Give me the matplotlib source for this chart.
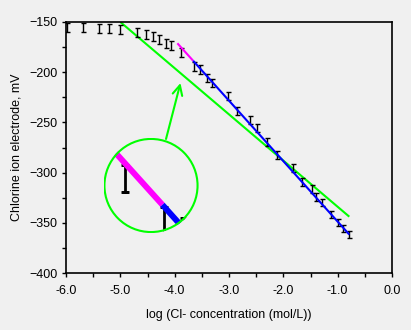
import matplotlib
matplotlib.use("Agg")
import matplotlib.pyplot as plt
from matplotlib.patches import Circle

plt.rcParams['font.family'] = ['Liberation Sans', 'DejaVu Sans']

bg = '#f0f0f0'

# measured points: log concentration, potential (mV), error (mV)
log_conc = [-5.98, -5.68, -5.39, -5.20, -5.00, -4.69, -4.52, -4.39, -4.29, -4.16,
            -4.06, -3.89, -3.65, -3.53, -3.40, -3.31, -3.02, -2.85, -2.61, -2.48,
            -2.30, -2.11, -1.83, -1.65, -1.48, -1.40, -1.28, -1.12, -1.00, -0.90, -0.79]
potential = [-155, -155, -156, -156, -157, -160.5, -162, -164, -167, -171,
             -173, -180, -194, -197.5, -206, -211, -224, -239, -247.5, -255.5,
             -269.5, -282, -295, -309, -316, -324, -330, -342, -350, -356, -362]
err = [4.5, 4.5, 4.5, 4.5, 4.5, 4.5, 4.5, 4.5, 4.5, 4.5,
       4.5, 4.5, 4.5, 4.5, 4, 4, 4, 4, 4, 4,
       4, 4, 4, 4, 4, 4, 3.5, 3.5, 3.5, 3.5, 3.5]

# fitted lines (endpoints)
magenta_x = [-3.95, -3.66]
magenta_y = [-171.2, -188.6]
blue_x = [-3.66, -0.786]
blue_y = [-188.6, -361.7]
green_x = [-5.0, -0.786]
green_y = [-150.0, -343.9]

# zoom window
zoom_center = (-3.73, -182.2)
zoom_half = (0.2915, 15.77)
arrow_from = (-4.159, -266.5)
arrow_to = (-3.893, -210.8)

fig = plt.figure(figsize=(4.11, 3.30), dpi=100, facecolor=bg)
ax = fig.add_axes([66 / 411, 57 / 330, 326 / 411, 251 / 330], facecolor=bg)


def draw_data(a, lw, elw, cap, z):
    a.plot(green_x, green_y, color='#00ff00', lw=lw, solid_capstyle='butt', zorder=2)
    a.errorbar(log_conc, potential, yerr=err, fmt='none', ecolor='black',
               elinewidth=elw, capsize=cap, capthick=elw, zorder=3)
    a.plot(magenta_x, magenta_y, color='#ff00ff', lw=z, solid_capstyle='butt', zorder=4)
    a.plot(blue_x, blue_y, color='#0000ff', lw=z, solid_capstyle='butt', zorder=4)


draw_data(ax, 1.5, 1.0, 1.8, 1.5)

ax.set_xlim(-6.0, 0.0)
ax.set_ylim(-400, -150)
ax.set_xticks([-6, -5, -4, -3, -2, -1, 0])
ax.set_xticklabels(['-6.0', '-5.0', '-4.0', '-3.0', '-2.0', '-1.0', '0.0'])
ax.set_xticks([-5.5, -4.5, -3.5, -2.5, -1.5, -0.5], minor=True)
ax.set_yticks([-400, -350, -300, -250, -200, -150])
ax.set_yticks([-375, -325, -275, -225, -175], minor=True)
ax.tick_params(which='both', direction='out', length=3, width=1, labelsize=9)
ax.tick_params(axis='x', pad=6)
ax.tick_params(axis='y', pad=3)
for s in ax.spines.values():
    s.set_linewidth(1.2)
ax.set_xlabel('log (Cl- concentration (mol/L))', fontsize=9, labelpad=8)
ax.set_ylabel('Chlorine ion electrode, mV', fontsize=9, labelpad=5)

ax.annotate('', xy=arrow_to, xytext=arrow_from,
            arrowprops=dict(arrowstyle='->,head_length=0.7,head_width=0.35',
                            color='#00ff00', lw=1.5, shrinkA=0, shrinkB=0))

# magnified circle
ins = fig.add_axes([(151 - 47.5) / 411, (330 - 185.5 - 47.5) / 330, 95 / 411, 95 / 330])
ins.set_facecolor('none')
ins.axis('off')
draw_data(ins, 4, 2.0, 2.9, 4.3)
ins.set_xlim(zoom_center[0] - zoom_half[0], zoom_center[0] + zoom_half[0])
ins.set_ylim(zoom_center[1] - zoom_half[1], zoom_center[1] + zoom_half[1])
clip = Circle((0.5, 0.5), 0.5, transform=ins.transAxes, facecolor='none')
ins.add_patch(clip)
for art in ins.lines + ins.collections:
    art.set_clip_path(clip)
ring = Circle((0.5, 0.5), 0.49, transform=ins.transAxes, facecolor='none',
              edgecolor='#00ff00', lw=1.5, zorder=10)
ins.add_patch(ring)

fig.savefig('out.png', dpi=100, facecolor=bg)
